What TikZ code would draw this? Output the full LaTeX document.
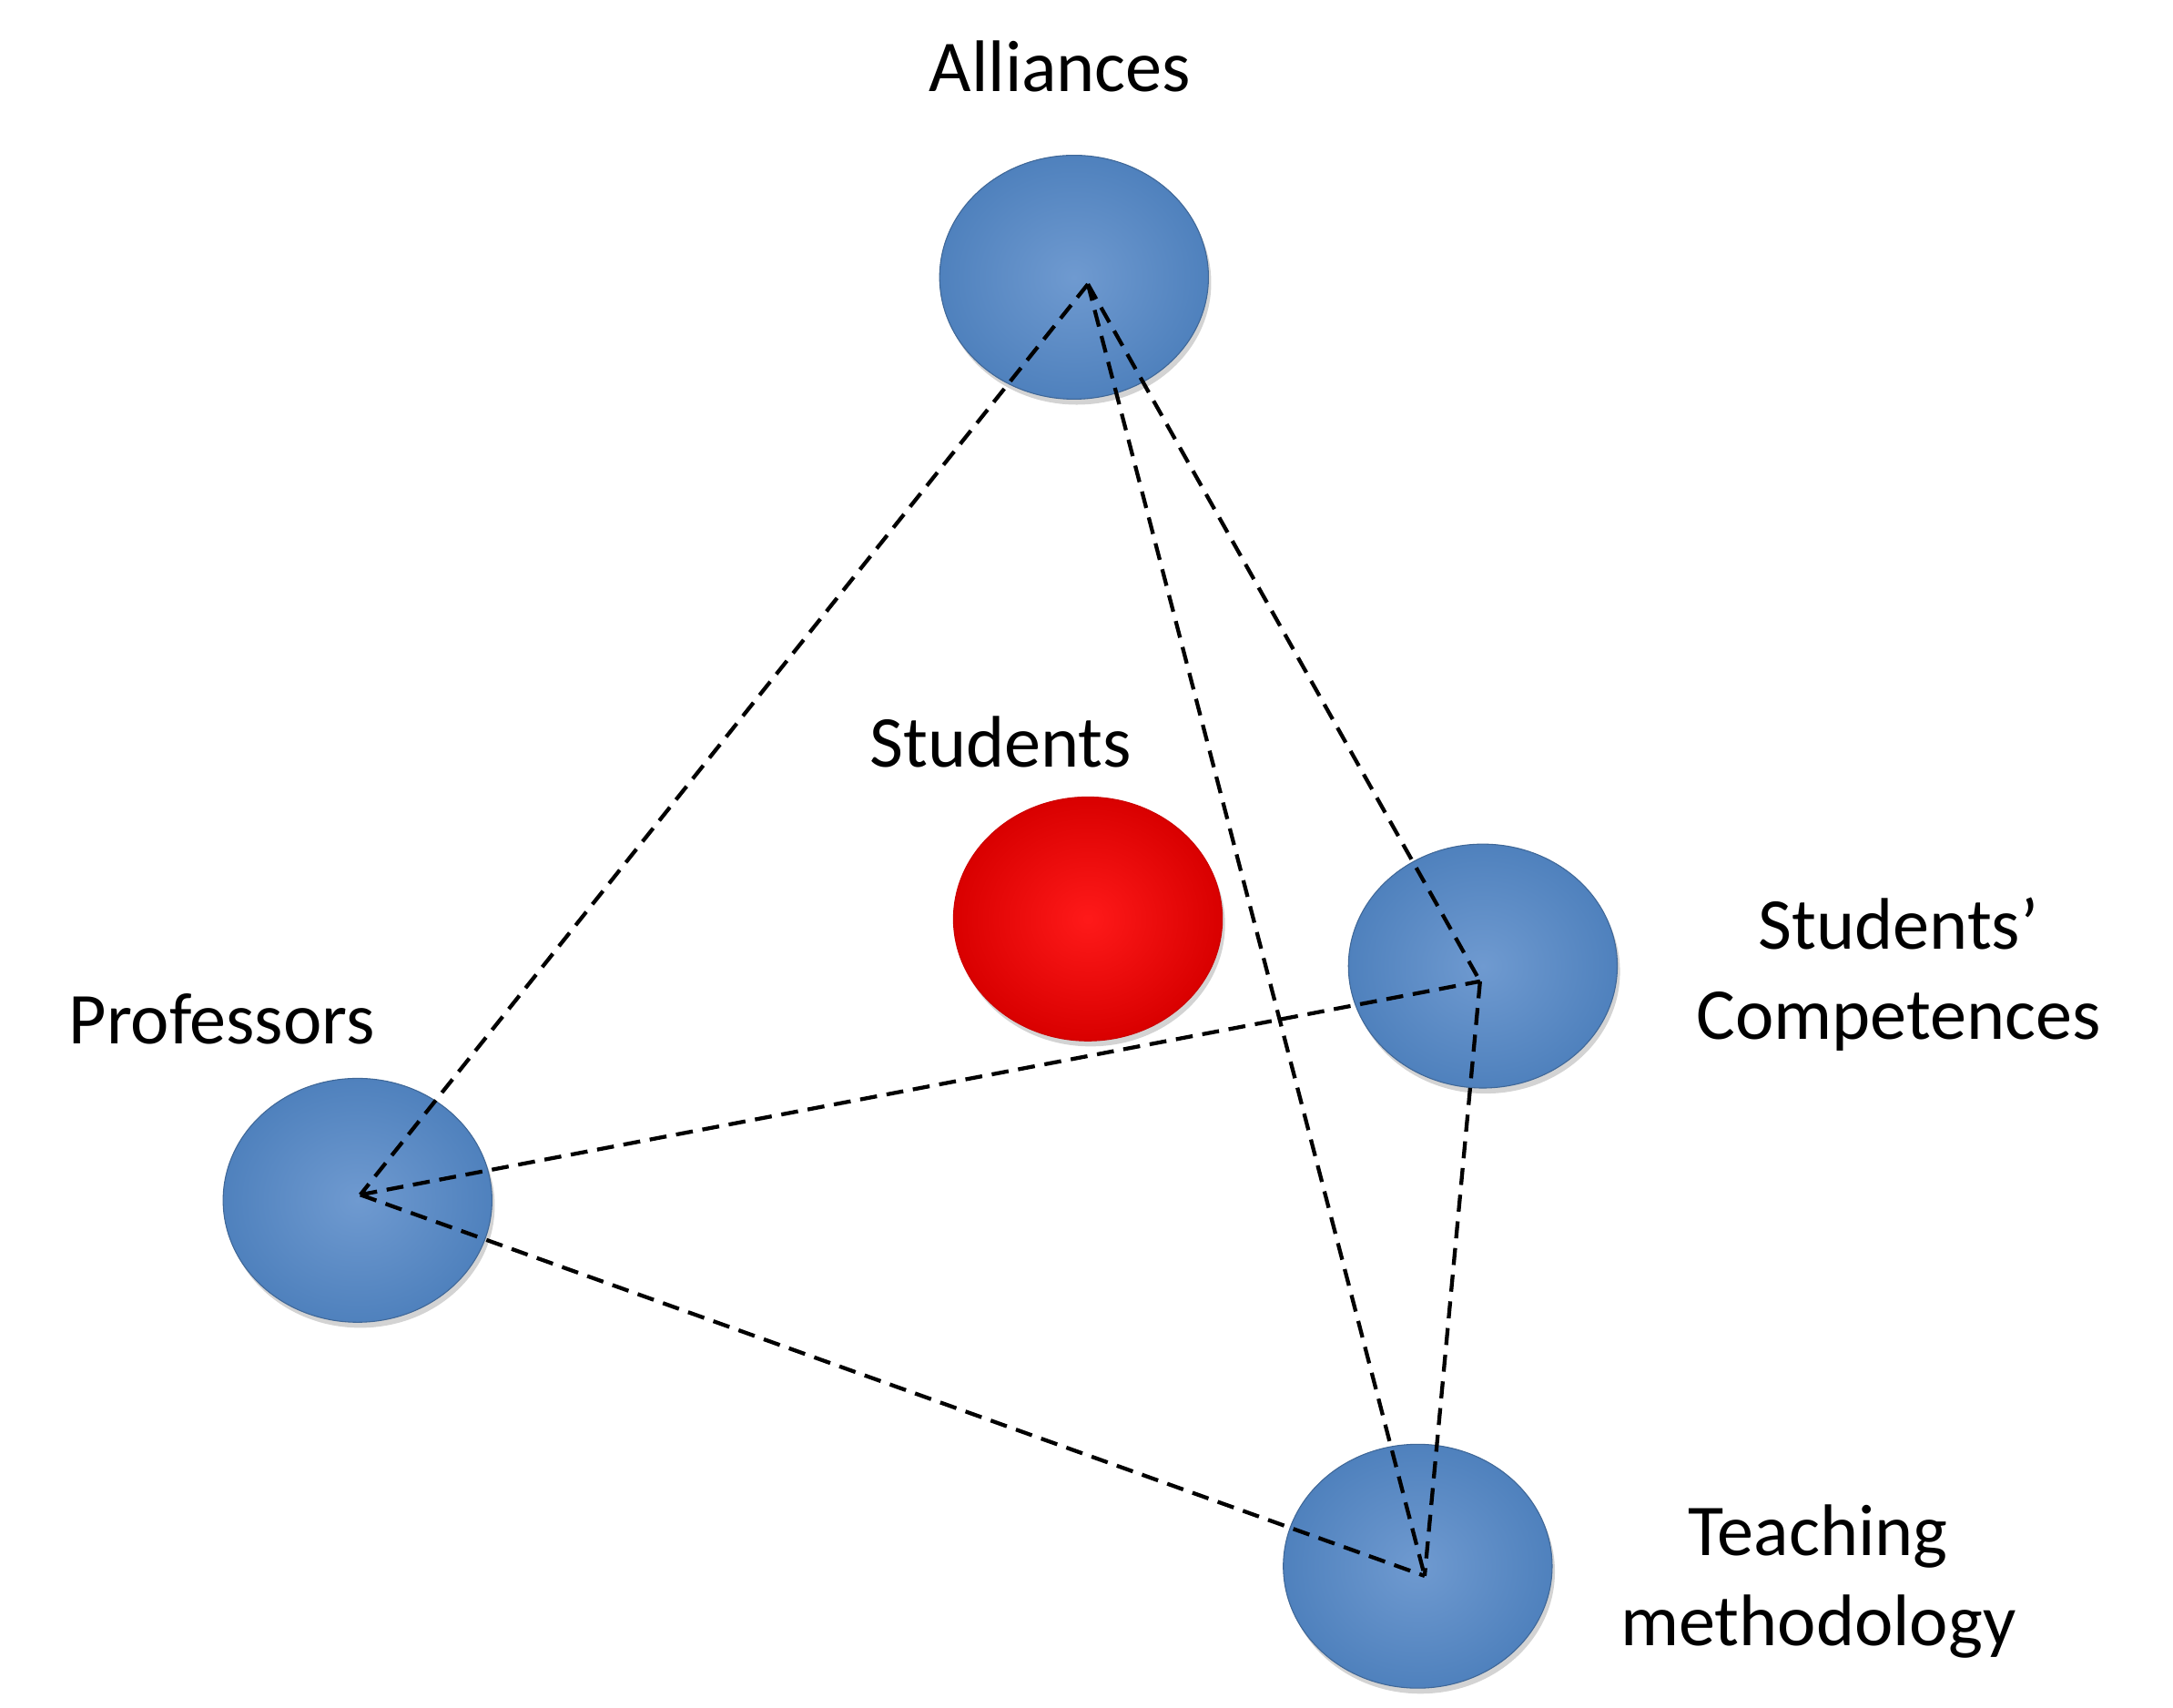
\documentclass[tikz,border=0pt]{standalone}
\usepackage{fontspec}
\setmainfont{Carlito}
\usetikzlibrary{shadows,shapes.geometric}
\definecolor{ballblue}{HTML}{4F81BD}
\definecolor{balllight}{HTML}{6F9AD0}
\begin{document}
\begin{tikzpicture}[x=0.02cm,y=-0.02cm,
  ball/.style={ellipse,minimum width=3.88cm,minimum height=3.52cm,inner sep=0pt,
     draw=ballblue!80!black,line width=0.4pt,inner color=balllight,outer color=ballblue,
     drop shadow={shadow xshift=0.04cm,shadow yshift=-0.08cm,opacity=0.35}},
  redball/.style={ball,inner color=red!90,outer color=red!85!black,draw=red!80!black},
  lbl/.style={font=\fontsize{30}{37}\selectfont,align=center},
  edge/.style={dashed,line width=1.6pt,dash pattern=on 7pt off 4pt}]
\useasboundingbox (0,0) rectangle (1568,1232);
\node[ball] (A) at (775,200) {};
\node[redball] (S) at (785,663) {};
\node[ball] (C) at (1070,697) {};
\node[ball] (P) at (258,866) {};
\node[ball] (T) at (1023,1130) {};
\coordinate (a) at (785,205);
\coordinate (c) at (1068,708);
\coordinate (p) at (260,862);
\coordinate (t) at (1028,1137);
\draw[edge] (a)--(p) (a)--(c) (a)--(t) (p)--(c) (p)--(t) (c)--(t);
\node[lbl] (lA) at (765,48) {Alliances};
\node[lbl] (lS) at (722,535) {Students};
\node[lbl] (lC) at (1370,703) {Students’\\Competences};
\node[lbl] (lP) at (160,735) {Professors};
\node[lbl] (lT) at (1312,1141) {Teaching\\methodology};
\end{tikzpicture}
\end{document}
